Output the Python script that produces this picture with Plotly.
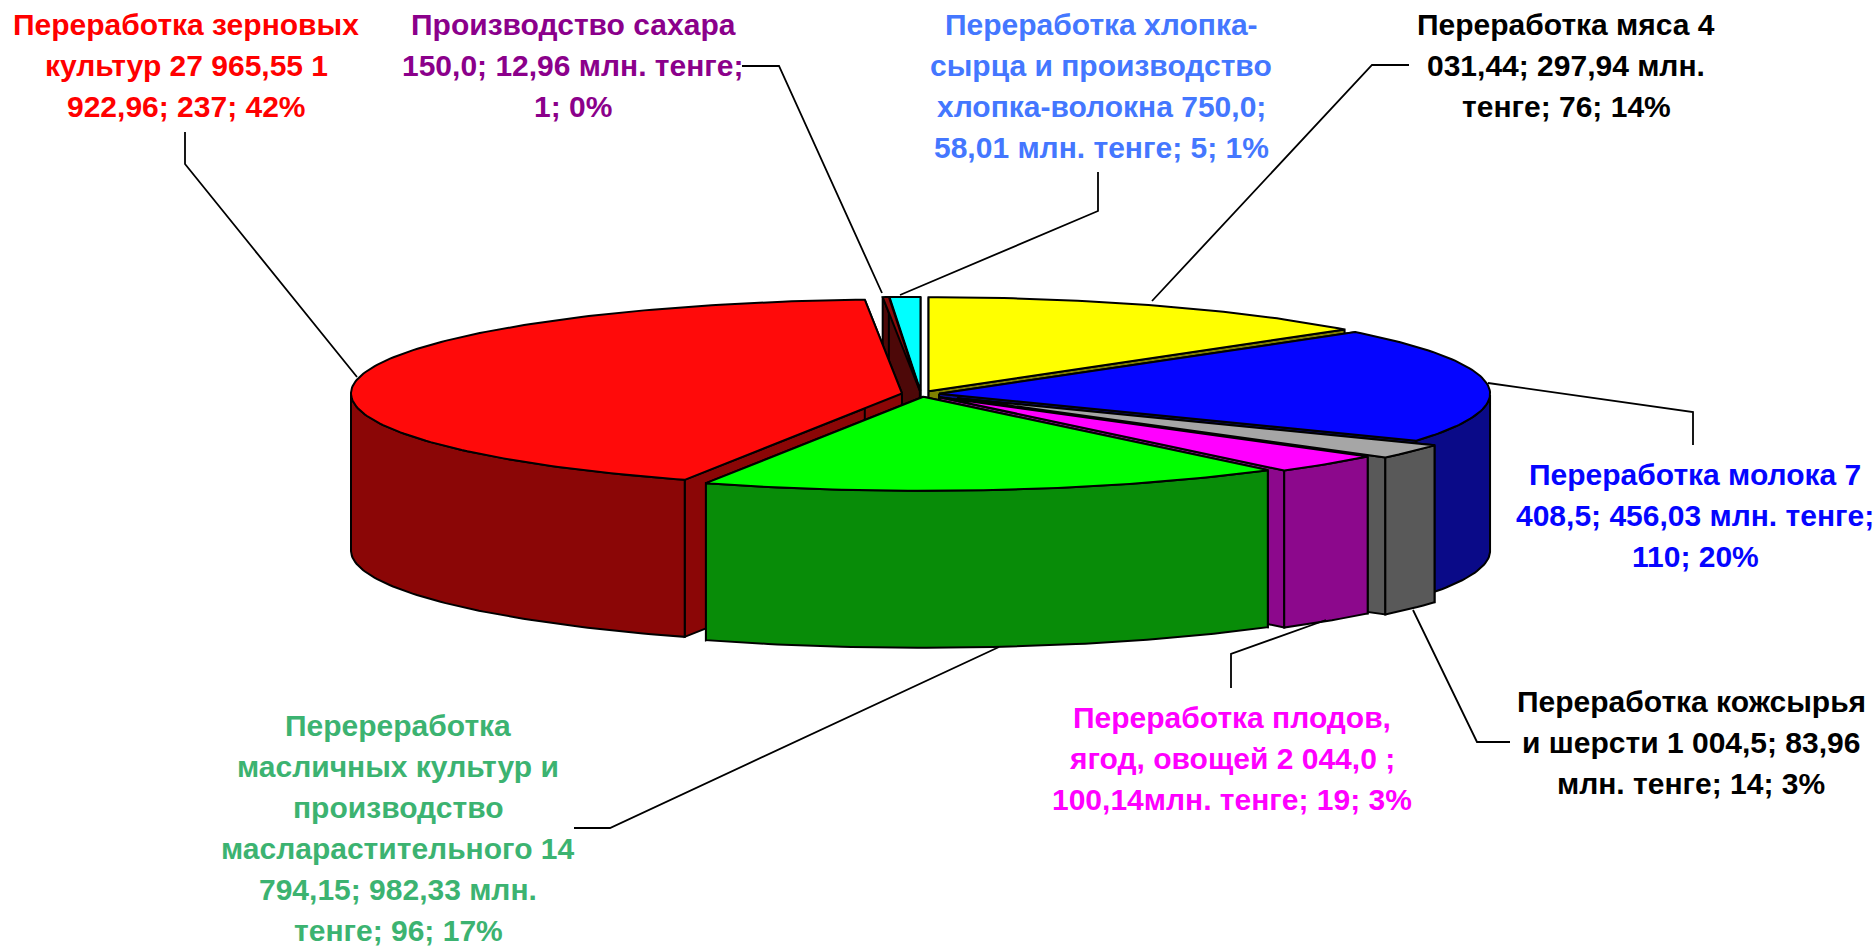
import numpy as np
import plotly.graph_objects as go

# ---- data (clockwise from 12 o'clock) ----
sectors = ["Переработка мяса", "Переработка молока", "Переработка кожсырья и шерсти",
           "Переработка плодов, ягод, овощей", "Перереработка масличных культур",
           "Переработка зерновых культур", "Производство сахара", "Переработка хлопка"]
counts = [76, 110, 14, 19, 96, 237, 1, 5]

# ---- label texts, line by line ----
label_lines = [
    ["Переработка мяса 4", "031,44; 297,94 млн.", "тенге; 76; 14%"],
    ["Переработка молока 7", "408,5; 456,03 млн. тенге;", "110; 20%"],
    ["Переработка кожсырья", "и шерсти 1 004,5; 83,96", "млн. тенге; 14; 3%"],
    ["Переработка плодов,", "ягод, овощей 2 044,0 ;", "100,14млн. тенге; 19; 3%"],
    ["Перереработка", "масличных культур и", "производство", "масларастительного 14",
     "794,15; 982,33 млн.", "тенге; 96; 17%"],
    ["Переработка зерновых", "культур 27 965,55 1", "922,96; 237; 42%"],
    ["Производство сахара", "150,0; 12,96 млн. тенге;", "1; 0%"],
    ["Переработка хлопка-", "сырца и производство", "хлопка-волокна 750,0;", "58,01 млн. тенге; 5; 1%"],
]

# ---- styling and layout (not data) ----
top_colors = ["#FFFF00", "#0505FF", "#A6A6A6", "#FF00FF", "#00FF00", "#FF0A0A", "#8B0A0A", "#00FFFF"]
wall_colors = ["#808000", "#0A0A88", "#595959", "#8C088C", "#088C08", "#8B0606", "#4D0808", "#007F7F"]
label_colors = ["#000000", "#0505FF", "#000000", "#FF00FF", "#3CB371", "#FF0000", "#8B008B", "#4477FF"]
explode = [0.033, 0.033, 0.08, 0.048, 0.03, 0.035, 0.033, 0.033]
label_cx = [1566, 1695, 1691, 1232, 398, 186, 573, 1101]
label_y0 = [24, 474, 701, 717, 725, 24, 24, 24]
LINE_H = 41.1
FONT = "Liberation Sans, Arial, sans-serif"
FONT_SIZE = 30
leaders = [
    [(1409, 65), (1372, 65), (1152, 301)],
    [(1488, 383), (1693, 412), (1693, 445)],
    [(1413, 610), (1477, 742), (1510, 742)],
    [(1326, 620), (1231, 654), (1231, 688)],
    [(999, 647), (610, 828), (574, 828)],
    [(185, 132), (185, 164), (357, 377)],
    [(742, 66), (779, 66), (882, 293)],
    [(1098, 172), (1098, 211), (900, 295)],
]
CX, CY, RX, RY, DEPTH = 921, 394, 551, 94, 157
EDGE = 2
draw_order = [7, 6, 0, 5, 1, 2, 3, 4]

fig = go.Figure()


def poly(xs, ys, color):
    fig.add_trace(go.Scatter(
        x=np.append(xs, xs[0]), y=np.append(ys, ys[0]), mode="lines", fill="toself",
        fillcolor=color, line=dict(color="#000000", width=EDGE),
        hoverinfo="skip", showlegend=False))


edges = np.concatenate([[0], np.cumsum(counts)]) / np.sum(counts) * 2 * np.pi

for i in draw_order:
    a0, a1 = edges[i], edges[i + 1]
    mid = (a0 + a1) / 2
    ox = CX + explode[i] * RX * np.sin(mid)
    oy = CY - explode[i] * RY * np.cos(mid)
    t = np.linspace(a0, a1, max(3, int((a1 - a0) * 60)))
    ax = ox + RX * np.sin(t)
    ay = oy - RY * np.cos(t)
    # radial end faces
    for a in (a0, a1):
        rx, ry = ox + RX * np.sin(a), oy - RY * np.cos(a)
        poly(np.array([ox, rx, rx, ox]), np.array([oy, ry, ry + DEPTH, oy + DEPTH]), wall_colors[i])
    # visible outer wall (front half only)
    front = t[np.cos(t) <= 0]
    if len(front) > 1:
        fx = ox + RX * np.sin(front)
        fy = oy - RY * np.cos(front)
        poly(np.concatenate([fx, fx[::-1]]), np.concatenate([fy, fy[::-1] + DEPTH]), wall_colors[i])
    # top
    poly(np.concatenate([[ox], ax]), np.concatenate([[oy], ay]), top_colors[i])

for pts in leaders:
    fig.add_trace(go.Scatter(x=[p[0] for p in pts], y=[p[1] for p in pts], mode="lines",
                             line=dict(color="#000000", width=1.8), hoverinfo="skip", showlegend=False))

for lines, cx, y0, col in zip(label_lines, label_cx, label_y0, label_colors):
    for k, s in enumerate(lines):
        fig.add_annotation(x=cx, y=y0 + k * LINE_H, text="<b>%s</b>" % s, showarrow=False,
                           xanchor="center", yanchor="middle",
                           font=dict(family=FONT, size=FONT_SIZE, color=col))

fig.update_layout(
    width=1876, height=946, margin=dict(l=0, r=0, t=0, b=0),
    paper_bgcolor="#FFFFFF", plot_bgcolor="#FFFFFF", showlegend=False,
    xaxis=dict(range=[0, 1876], visible=False, fixedrange=True),
    yaxis=dict(range=[946, 0], visible=False, fixedrange=True),
)
# Remove the page's default margin and scrollbars so the figure fills the window exactly.
fig.write_html("out.html", config={"displayModeBar": False},
               post_script="document.body.style.margin='0';document.body.style.overflow='hidden';")
